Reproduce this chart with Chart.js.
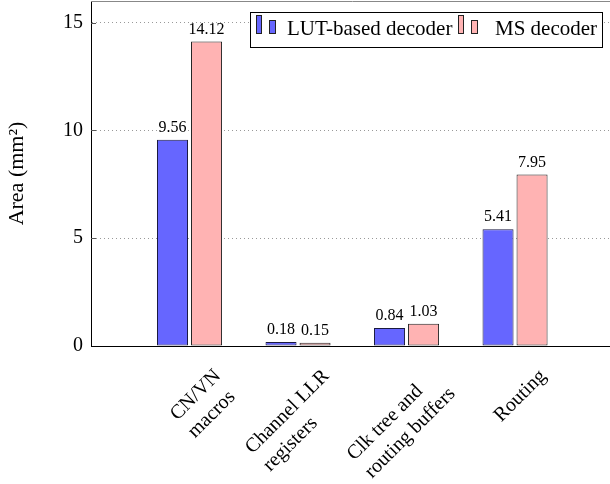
<!DOCTYPE html>
<html>
<head>
<meta charset="utf-8">
<script src="https://cdn.jsdelivr.net/npm/chart.js@4.4.0/dist/chart.umd.min.js"></script>
<style>
  html, body { margin: 0; padding: 0; background: #fff; overflow: hidden; }
  #wrap { width: 625px; height: 484px; }
</style>
</head>
<body>
<div id="wrap"><canvas id="grafica" width="625" height="484"></canvas></div>
<script>
const categorias = [['CN/VN', 'macros'], ['Channel LLR', 'registers'], ['Clk tree and', 'routing buffers'], ['Routing']];
const valoresLUT = [9.56, 0.18, 0.84, 5.41];
const valoresMS = [14.12, 0.15, 1.03, 7.95];
const ticksY = [0, 5, 10, 15];
const nombresSeries = ['LUT-based decoder', 'MS decoder'];

const AZUL = 'rgb(102, 102, 255)';
const ROSA = 'rgb(255, 179, 179)';
const SERIF = '"Liberation Serif", "Times New Roman", serif';

function puntos(valores) {
    return valores.map((v, i) => ({ x: i, y: v }));
}

// etiquetas de valor encima de cada barra
const etiquetasValor = {
    id: 'etiquetasValor',
    afterDatasetsDraw(chart) {
        const ctx = chart.ctx;
        ctx.save();
        ctx.font = '16px ' + SERIF;
        ctx.fillStyle = '#000';
        ctx.textAlign = 'center';
        ctx.textBaseline = 'alphabetic';
        chart.data.datasets.forEach((ds, d) => {
            const meta = chart.getDatasetMeta(d);
            meta.data.forEach((bar, i) => {
                ctx.fillText(ds.data[i].y.toFixed(2), bar.x, bar.y - 8);
            });
        });
        ctx.restore();
    }
};

// etiquetas del eje x giradas 45°, lineas alineadas a la izquierda
const etiquetasX = {
    id: 'etiquetasX',
    afterDraw(chart) {
        const ctx = chart.ctx;
        const x = chart.scales.x;
        ctx.save();
        ctx.font = '20px ' + SERIF;
        ctx.fillStyle = '#000';
        ctx.textAlign = 'left';
        ctx.textBaseline = 'alphabetic';
        categorias.forEach((lineas, i) => {
            const ancho = Math.max(...lineas.map(l => ctx.measureText(l).width));
            ctx.save();
            ctx.translate(x.getPixelForValue(i) + 22, x.top + 21);
            ctx.rotate(-Math.PI / 4);
            lineas.forEach((l, j) => ctx.fillText(l, -ancho, 14 + j * 25));
            ctx.restore();
        });
        ctx.restore();
    }
};

// marco superior, marcas de eje y leyenda con borde
const marcoYLeyenda = {
    id: 'marcoYLeyenda',
    afterDraw(chart) {
        const ctx = chart.ctx;
        const area = chart.chartArea;
        const y = chart.scales.y;
        ctx.save();
        ctx.strokeStyle = '#888';
        ctx.lineWidth = 1;
        ctx.beginPath();
        ctx.moveTo(area.left, area.top + 0.5);
        ctx.lineTo(area.right, area.top + 0.5);
        ctx.stroke();

        ctx.strokeStyle = '#555';
        ticksY.forEach(t => {
            if (t === 0) return;
            const py = Math.round(y.getPixelForValue(t)) + 0.5;
            ctx.beginPath();
            ctx.moveTo(area.left, py);
            ctx.lineTo(area.left + 5, py);
            ctx.stroke();
        });

        // leyenda
        ctx.fillStyle = '#fff';
        ctx.fillRect(250, 12, 352, 35);
        ctx.strokeStyle = '#000';
        ctx.strokeRect(250.5, 12.5, 352, 35);

        const simbolos = [
            { x: 256, color: AZUL, texto: nombresSeries[0], tx: 287 },
            { x: 458, color: ROSA, texto: nombresSeries[1], tx: 495 }
        ];
        simbolos.forEach(s => {
            ctx.fillStyle = s.color;
            ctx.strokeStyle = '#222';
            ctx.fillRect(s.x, 15, 5, 18);
            ctx.strokeRect(s.x + 0.5, 15.5, 5, 18);
            ctx.fillRect(s.x + 13, 20, 6, 13);
            ctx.strokeRect(s.x + 13.5, 20.5, 6, 13);
            ctx.fillStyle = '#000';
            ctx.font = '21px ' + SERIF;
            ctx.textAlign = 'left';
            ctx.textBaseline = 'alphabetic';
            ctx.fillText(s.texto, s.tx, 35);
        });
        ctx.restore();
    }
};

const ctx = document.getElementById('grafica');

const grafica = new Chart(ctx, {
    type: 'bar',
    data: {
        datasets: [{
            label: nombresSeries[0],
            data: puntos(valoresLUT),
            backgroundColor: AZUL,
            borderColor: '#1a1a40',
            borderWidth: 1,
            borderSkipped: false
        }, {
            label: nombresSeries[1],
            data: puntos(valoresMS),
            backgroundColor: ROSA,
            borderColor: '#222',
            borderWidth: 1,
            borderSkipped: false
        }]
    },
    options: {
        responsive: false,
        animation: false,
        categoryPercentage: 0.627,
        barPercentage: 0.912,
        layout: { padding: { top: 1, right: 11, left: 0, bottom: 0 } },
        plugins: {
            legend: { display: false },
            tooltip: { enabled: false }
        },
        scales: {
            x: {
                type: 'linear',
                offset: false,
                min: -0.908,
                max: 3.912,
                afterBuildTicks: (scale) => { scale.ticks = categorias.map((c, i) => ({ value: i })); },
                afterFit: (scale) => {
                    scale.height = 138;
                    scale.paddingLeft = 0;
                    scale.paddingRight = 0;
                },
                grid: { display: false },
                border: { display: true, color: '#000', width: 1 },
                ticks: { display: false }
            },
            y: {
                min: 0,
                max: 16,
                afterBuildTicks: (scale) => { scale.ticks = ticksY.map(v => ({ value: v })); },
                afterFit: (scale) => {
                    scale.width = 91;
                    scale.paddingTop = 0;
                    scale.paddingBottom = 0;
                },
                grid: {
                    color: (c) => c.tick && c.tick.value === 0 ? 'rgba(0,0,0,0)' : '#999',
                    lineWidth: 1,
                    drawTicks: false
                },
                border: { display: true, color: '#000', width: 1, dash: [1, 3] },
                ticks: {
                    padding: 8,
                    color: '#000',
                    font: { family: SERIF, size: 20 }
                },
                title: {
                    display: true,
                    text: 'Area (mm²)',
                    color: '#000',
                    font: { family: SERIF, size: 22 },
                    padding: { top: 4, bottom: 0 }
                }
            }
        }
    },
    plugins: [etiquetasValor, etiquetasX, marcoYLeyenda]
});
</script>
</body>
</html>
